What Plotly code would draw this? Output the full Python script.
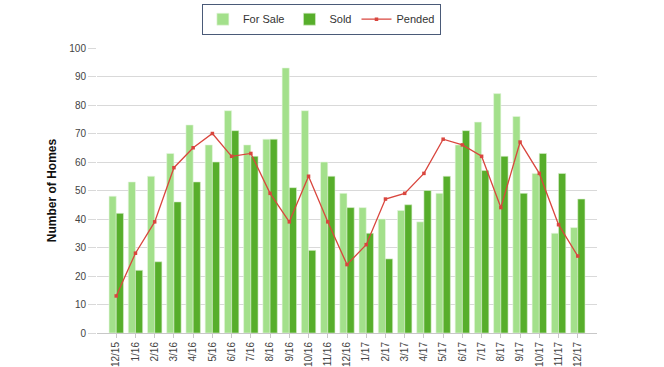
import plotly.graph_objects as go

months = ["12/15", "1/16", "2/16", "3/16", "4/16", "5/16", "6/16", "7/16", "8/16", "9/16",
          "10/16", "11/16", "12/16", "1/17", "2/17", "3/17", "4/17", "5/17", "6/17", "7/17",
          "8/17", "9/17", "10/17", "11/17", "12/17"]
for_sale = [48, 53, 55, 63, 73, 66, 78, 66, 68, 93, 78, 60, 49, 44, 40, 43, 39, 49, 66, 74, 84, 76, 56, 35, 37]
sold = [42, 22, 25, 46, 53, 60, 71, 62, 68, 51, 29, 55, 44, 35, 26, 45, 50, 55, 71, 57, 62, 49, 63, 56, 47]
pended = [13, 28, 39, 58, 65, 70, 62, 63, 49, 39, 55, 39, 24, 31, 47, 49, 56, 68, 66, 62, 44, 67, 56, 38, 27]
y_ticks = list(range(0, 101, 10))

font = "Liberation Sans"
fig = go.Figure()
fig.add_bar(x=months, y=for_sale, name="For Sale", marker=dict(color="#a3e08b", line=dict(color="#e8f6e0", width=0.6)))
fig.add_bar(x=months, y=sold, name="Sold", marker=dict(color="#57ae2b", line=dict(color="#d8eecc", width=0.6)))
fig.add_scatter(x=months, y=pended, name="Pended", mode="lines+markers",
                line=dict(color="#d9463e", width=1.3),
                marker=dict(color="#d9463e", size=3.5, symbol="square"))

fig.update_layout(
    width=664, height=367,
    margin=dict(l=97, r=67, t=48, b=34),
    paper_bgcolor="white", plot_bgcolor="white",
    barmode="group", bargap=0.25, bargroupgap=0.0,
    font=dict(family=font, size=10, color="#444444"),
    showlegend=True,
    legend=dict(orientation="h", x=0.484, xanchor="center", y=0.99, yanchor="top",
                yref="container", xref="container",
                bordercolor="#4a5a78", borderwidth=1, bgcolor="white",
                font=dict(family=font, size=11, color="#333333"),
                itemwidth=30, tracegroupgap=0),
    xaxis=dict(type="category", range=[-1, 25], tickangle=-90, showgrid=False,
               showline=True, linecolor="#c8c8c8", ticks="outside", ticklen=4,
               tickcolor="#c8c8c8", tickfont=dict(family=font, size=10, color="#444444"),
               automargin=False, fixedrange=True),
    yaxis=dict(range=[0, 100], tickvals=y_ticks, showgrid=True, gridcolor="#d9d9d9",
               gridwidth=1, zeroline=False, showline=False, ticks="outside", ticklen=8,
               tickcolor="#d9d9d9",
               tickfont=dict(family=font, size=10, color="#444444"),
               title=dict(text="<b>Number of Homes</b>", font=dict(family=font, size=12, color="#111111"), standoff=10),
               automargin=False, fixedrange=True),
)
fig.write_html("out.html", post_script="document.body.style.margin='0';",
               config={"displayModeBar": False})
